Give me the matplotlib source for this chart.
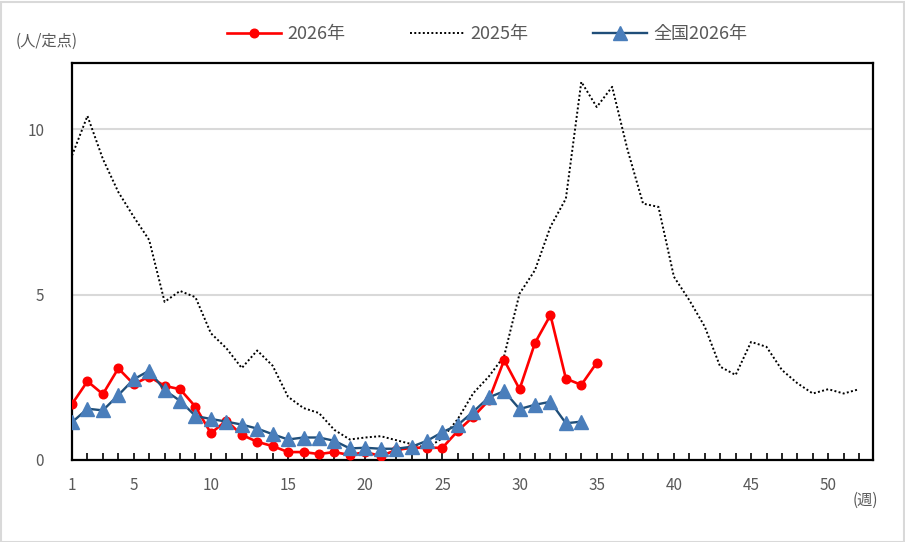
import numpy as np
import matplotlib.pyplot as plt
from matplotlib.patches import Rectangle

plt.rcParams['font.family'] = ['Noto Sans CJK JP', 'DejaVu Sans']

# weekly values (per sentinel site)
weeks_2025 = list(range(1, 53))
cases_2025 = [9.2, 10.4, 9.1, 8.1, 7.35, 6.65, 4.78, 5.11, 4.92, 3.83,
              3.38, 2.78, 3.31, 2.85, 1.91, 1.57, 1.42, 0.91, 0.62, 0.68,
              0.72, 0.60, 0.48, 0.36, 0.66, 1.24, 2.02, 2.52, 3.14, 5.03,
              5.74, 7.05, 7.9, 11.43, 10.67, 11.28, 9.37, 7.75, 7.65, 5.54,
              4.83, 4.03, 2.82, 2.57, 3.57, 3.42, 2.72, 2.32, 2.01, 2.14,
              2.01, 2.14]

weeks_2026 = list(range(1, 36))
cases_2026 = [1.69, 2.38, 1.99, 2.77, 2.29, 2.52, 2.24, 2.14, 1.61, 0.81,
              1.19, 0.76, 0.55, 0.42, 0.24, 0.24, 0.18, 0.24, 0.15, 0.24,
              0.12, 0.30, 0.37, 0.37, 0.37, 0.88, 1.31, 1.80, 3.02, 2.14,
              3.54, 4.38, 2.46, 2.27, 2.94]

weeks_nat = list(range(1, 35))
cases_nat = [1.14, 1.55, 1.50, 1.96, 2.44, 2.70, 2.11, 1.79, 1.33, 1.24,
             1.16, 1.07, 0.95, 0.78, 0.62, 0.68, 0.68, 0.58, 0.35, 0.37,
             0.34, 0.34, 0.40, 0.58, 0.84, 1.06, 1.46, 1.89, 2.08, 1.54,
             1.67, 1.76, 1.11, 1.16]

x_labels = [1, 5, 10, 15, 20, 25, 30, 35, 40, 45, 50]

W, H = 905, 542
txt = '#595959'

fig = plt.figure(figsize=(W / 100, H / 100), dpi=100)
ax = fig.add_axes([72 / W, 1 - 460 / H, (873 - 72) / W, (460 - 63) / H])

l25, = ax.plot(weeks_2025, cases_2025, color='black', lw=1.4,
               linestyle=(0, (1, 1.2)), zorder=2)
l26, = ax.plot(weeks_2026, cases_2026, color='#FF0000', lw=1.9, marker='o',
               markersize=6.2, zorder=3)
lnat, = ax.plot(weeks_nat, cases_nat, color='#1F4E79', lw=1.7, marker='^',
                markersize=9.5, markerfacecolor='#4A7EBB',
                markeredgecolor='#4A7EBB', zorder=4)

ax.set_xlim(1, 52.9)
ax.set_ylim(0, 12)
ax.set_yticks([0, 5, 10])
ax.set_yticklabels(['0', '5', '10'])
ax.set_xticks(range(1, 53))
ax.set_xticklabels([str(w) if w in x_labels else '' for w in range(1, 53)])
ax.tick_params(axis='x', direction='in', length=5, width=1.2, color='black',
               labelsize=11, labelcolor=txt, pad=12)
ax.tick_params(axis='y', length=0, labelsize=11, labelcolor=txt, pad=20)
ax.grid(axis='y', color='#D9D9D9', lw=1.5)
ax.set_axisbelow(True)
for s in ax.spines.values():
    s.set_color('black')
    s.set_linewidth(1.6)

fig.text(16 / W, 1 - 41 / H, '(人/定点)', fontsize=11, color=txt,
         ha='left', va='center')
fig.text(878 / W, 1 - 500 / H, '(週)', fontsize=11, color=txt,
         ha='right', va='center')

# legend entries placed individually like the original
entries = [(l26, '2026年', 227), (l25, '2025年', 410), (lnat, '全国2026年', 593)]
for h, lab, x0 in entries:
    fig.legend([h], [lab], loc='center left',
               bbox_to_anchor=(x0 / W, 1 - 34 / H), frameon=False,
               fontsize=13, labelcolor=txt, handlelength=3.0,
               handletextpad=0.35, borderpad=0, borderaxespad=0)

fig.add_artist(Rectangle((0.5 / W, 0.5 / H), 1 - 2 / W, 1 - 2 / H,
                         transform=fig.transFigure, fill=False,
                         edgecolor='#D9D9D9', lw=1.5))

fig.savefig('out.png', dpi=100)
